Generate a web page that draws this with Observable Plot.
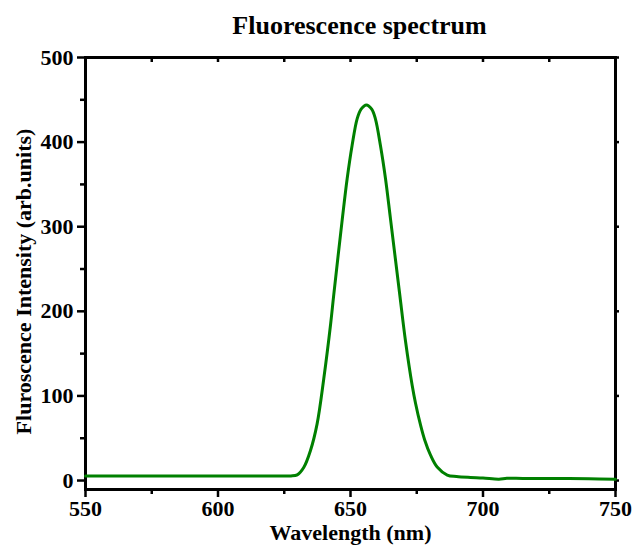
<!DOCTYPE html>
<html>
<head>
<meta charset="utf-8">
<script src="https://cdn.jsdelivr.net/npm/d3@7"></script>
<script src="https://cdn.jsdelivr.net/npm/@observablehq/plot@0.6"></script>
<style>
  html, body { margin: 0; padding: 0; background: #fff; }
  #chart svg { display: block; }
</style>
</head>
<body>
<div id="chart"></div>
<script>
const title = "Fluorescence spectrum";
const xLabel = "Wavelength (nm)";
const yLabel = "Fluroscence Intensity (arb.units)";

const wavelength = [550, 570, 590, 610, 625, 627.5, 629.9, 632.4, 634.9, 637.4, 639.9, 642.5, 643.7, 646.9, 648.75, 650.6, 652.5, 654, 656, 658, 659.4, 661.3, 663.2, 665.1, 668.5, 670.75, 673.3, 674.5, 676.4, 678, 680.2, 682.7, 686.5, 690, 695.3, 700, 706, 709, 715, 727, 740, 750];
const intensity  = [5.3, 5.3, 5.3, 5.3, 5.3, 5.4, 6.7, 15.7, 35.5, 67, 120, 185, 220, 309, 357, 396, 427.5, 439, 444, 439, 427.5, 396, 357, 309, 222, 165, 112, 92, 66, 48, 30, 16, 6.5, 4.7, 3.6, 3, 1.6, 2.7, 2.5, 2.4, 2.0, 1.5];

const xMajor = [550, 600, 650, 700, 750];
const xMinor = [575, 625, 675, 725];
const yMajor = [0, 100, 200, 300, 400, 500];
const yMinor = [50, 150, 250, 350, 450];

const data = wavelength.map((w, i) => ({w, v: intensity[i]}));
const font = "'Liberation Serif', 'Times New Roman', serif";

const chart = Plot.plot({
  width: 632,
  height: 547,
  marginLeft: 85,
  marginRight: 17,
  marginTop: 57,
  marginBottom: 58,
  style: {fontFamily: font, fontWeight: "bold", fontSize: "22px", color: "#000", background: "#fff"},
  x: {domain: [550, 750]},
  y: {domain: [-10.6, 500]},
  marks: [
    Plot.axisX({ticks: xMajor, tickSize: 8, tickPadding: 3, tickFormat: d3.format("d"), label: null, strokeWidth: 2.5, fontSize: 22}),
    Plot.axisX({ticks: xMinor, tickSize: 5, tickFormat: () => "", label: null, strokeWidth: 2.5}),
    Plot.axisX({anchor: "top", ticks: xMajor.concat(xMinor), tickSize: -4, tickFormat: () => "", label: null, strokeWidth: 2.5}),
    Plot.axisY({ticks: yMajor, tickSize: 8, tickPadding: 4, tickFormat: d3.format("d"), label: null, strokeWidth: 2.5, fontSize: 22}),
    Plot.axisY({ticks: yMinor, tickSize: 5, tickFormat: () => "", label: null, strokeWidth: 2.5}),
    Plot.axisY({anchor: "right", ticks: yMajor, tickSize: 3, tickFormat: () => "", label: null, strokeWidth: 2.5}),
    Plot.frame({stroke: "#000", strokeWidth: 3}),
    Plot.line(data, {x: "w", y: "v", stroke: "#008000", strokeWidth: 3, curve: "catmull-rom"}),
    Plot.text([title], {frameAnchor: "top", dy: -42, dx: 9, text: d => d, fontSize: 26, fontWeight: "bold", fill: "#000"}),
    Plot.text([xLabel], {frameAnchor: "bottom", dy: 50, text: d => d, fontSize: 22, fontWeight: "bold", fill: "#000"}),
    Plot.text([yLabel], {frameAnchor: "left", textAnchor: "middle", dx: -62, dy: 8, rotate: -90, text: d => d, fontSize: 22, fontWeight: "bold", fill: "#000"})
  ]
});
document.getElementById("chart").appendChild(chart);
</script>
</body>
</html>
